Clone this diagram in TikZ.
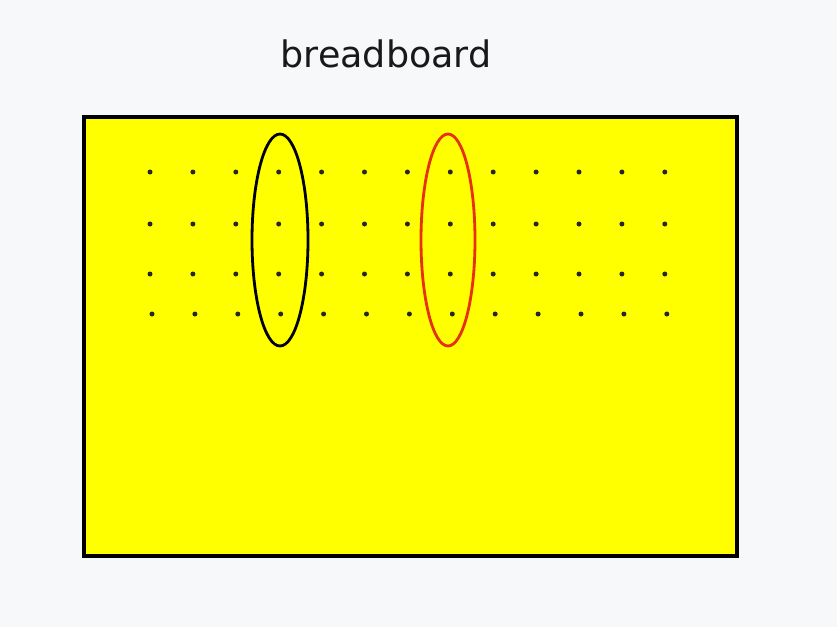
\documentclass[tikz,border=0pt]{standalone}
\usepackage{fontspec}
\setmainfont{DejaVu Sans}
\usetikzlibrary{shapes.geometric}
\definecolor{bgc}{HTML}{F7F8FA}
\definecolor{boardc}{HTML}{FFFF00}
\definecolor{redc}{HTML}{E8300C}
\begin{document}
\begin{tikzpicture}[x=1pt,y=-1pt,
  board/.style={draw=black,line width=3.6pt,fill=boardc},
  hole/.style={circle,fill=black!85,inner sep=0pt,minimum size=5pt},
  ring/.style={ellipse,line width=2.8pt,inner sep=0pt,minimum width=56pt,minimum height=212pt}]
\fill[bgc] (0,0) rectangle (837,627);
\useasboundingbox (0,0) rectangle (837,627);
\node[font=\fontsize{36.5}{40}\selectfont,text=black!90] (title) at (386,54) {breadboard};
\draw[board] (84,117) rectangle (737,556);
\foreach \r/\y/\dx in {1/172/0,2/224/0,3/274/0,4/314/2}{
  \foreach \c in {0,...,12}{
    \node[hole] (h\r-\c) at ({150+42.9*\c+\dx},\y) {};
  }
}
\node[ring,draw=black] (ringA) at (280,240) {};
\node[ring,draw=redc,minimum width=54pt] (ringB) at (448,240) {};
\end{tikzpicture}
\end{document}
